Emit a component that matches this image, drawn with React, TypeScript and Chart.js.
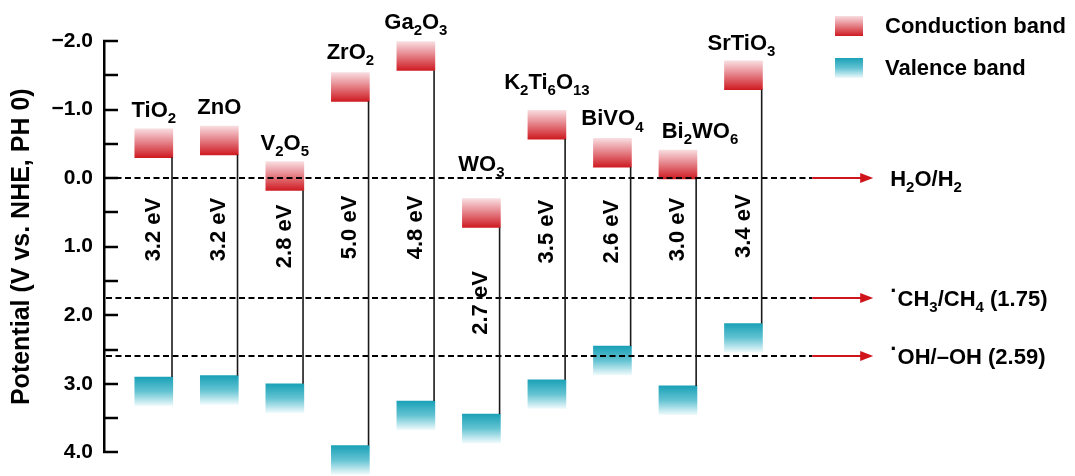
import React, { useEffect, useRef } from 'react';
import { Chart, registerables } from 'chart.js';

Chart.register(...registerables);

// ---------------- data ----------------
const materials = ['TiO_2', 'ZnO', 'V_2O_5', 'ZrO_2', 'Ga_2O_3', 'WO_3', 'K_2Ti_6O_{13}', 'BiVO_4', 'Bi_2WO_6', 'SrTiO_3'];
const conductionBand = [-0.3, -0.34, 0.18, -1.12, -1.57, 0.72, -0.57, -0.16, 0.01, -1.29];
const valenceBand = [2.9, 2.88, 3.0, 3.9, 3.25, 3.44, 2.94, 2.45, 3.03, 2.12];
const bandGaps = [3.2, 3.2, 2.8, 5.0, 4.8, 2.7, 3.5, 2.6, 3.0, 3.4];
const refPotentials = [0, 1.75, 2.59];
const refLabels = ['H_2O/H_2', '^·CH_3/CH_4 (1.75)', '^·OH/–OH (2.59)'];
const legendLabels = ['Conduction band', 'Valence band'];
const yAxisTitle = 'Potential (V vs. NHE, PH 0)';

// ---------------- layout / style ----------------
const FONT = '"Liberation Sans", Arial, sans-serif';
const BAND_THICKNESS = 0.42; // V, drawn height of each band block
const gapLabelCenter = [0.75, 0.75, 0.85, 0.72, 0.72, 1.82, 0.78, 0.78, 0.75, 0.7];
const nameLift = [12, 12, 12, 14, 13, 28, 21, 13, 12, 11];
const nameShift = [0, 0, 0, 0, 0, 0, 0, 0, 22, -2];
const REF_DASH_END = 10.05;
const REF_ARROW_TIP = 10.98;
const REF_LABEL_X = 11.24;
const CB_STOPS: [number, string][] = [[0, '#f8dde0'], [0.45, '#e6868d'], [1, '#cf1b22']];
const VB_STOPS: [number, string][] = [[0, '#1aa1b7'], [0.5, '#63c3d2'], [1, '#eefafc']];
const RED = '#d0141c';

type Seg = { t: string; kind: 'n' | 'sub' | 'sup' };
function parseRich(s: string): Seg[] {
  const segs: Seg[] = [];
  let i = 0;
  while (i < s.length) {
    const c = s[i];
    if (c === '_' || c === '^') {
      const kind = c === '_' ? 'sub' : 'sup';
      i++;
      let t = '';
      if (s[i] === '{') {
        const j = s.indexOf('}', i);
        t = s.slice(i + 1, j);
        i = j + 1;
      } else {
        t = s[i];
        i++;
      }
      segs.push({ t, kind });
    } else {
      let t = '';
      while (i < s.length && s[i] !== '_' && s[i] !== '^') {
        t += s[i];
        i++;
      }
      segs.push({ t, kind: 'n' });
    }
  }
  return segs;
}

function drawRich(ctx: CanvasRenderingContext2D, s: string, x: number, y: number, size: number, align: 'left' | 'center') {
  const segs = parseRich(s);
  const fontOf = (k: string) => `bold ${k === 'sub' ? Math.round(size * 0.68) : size}px ${FONT}`;
  const widths = segs.map((sg) => {
    ctx.font = fontOf(sg.kind);
    return ctx.measureText(sg.t).width;
  });
  const total = widths.reduce((a, b) => a + b, 0);
  let cx = align === 'center' ? x - total / 2 : x;
  ctx.textAlign = 'left';
  ctx.textBaseline = 'alphabetic';
  segs.forEach((sg, k) => {
    ctx.font = fontOf(sg.kind);
    let dy = 0;
    if (sg.kind === 'sub') dy = size * 0.28;
    if (sg.kind === 'sup') dy = -size * 0.36;
    ctx.fillText(sg.t, cx, y + dy);
    cx += widths[k];
  });
}

const makeGrad = (stops: [number, string][]) => (c: any) => {
  const chart = c.chart;
  const ys = chart.scales?.y;
  if (!ys || c.type !== 'data' || !chart.chartArea || !c.raw) return stops[stops.length - 1][1];
  const [a, b] = c.raw.y;
  const top = ys.getPixelForValue(Math.min(a, b));
  const bot = ys.getPixelForValue(Math.max(a, b));
  const g = chart.ctx.createLinearGradient(0, top, 0, bot);
  stops.forEach(([o, col]) => g.addColorStop(o, col));
  return g;
};

const decorPlugin = {
  id: 'bandDecor',
  afterDatasetsDraw(chart: any) {
    const { ctx, chartArea } = chart;
    const x = chart.scales.x;
    const y = chart.scales.y;
    ctx.save();
    // inward ticks (major + minor)
    ctx.strokeStyle = '#000';
    ctx.lineWidth = 2.5;
    ctx.lineCap = 'butt';
    for (let v = -2; v <= 4.001; v += 0.5) {
      const py = Math.round(y.getPixelForValue(v));
      ctx.beginPath();
      ctx.moveTo(chartArea.left - 1, py);
      ctx.lineTo(chartArea.left + 14, py);
      ctx.stroke();
    }
    // reference potentials
    refPotentials.forEach((p, k) => {
      const py = Math.round(y.getPixelForValue(p));
      const xEnd = x.getPixelForValue(REF_DASH_END);
      const xTip = x.getPixelForValue(REF_ARROW_TIP);
      ctx.setLineDash([6, 3.5]);
      ctx.strokeStyle = '#000';
      ctx.lineWidth = 2;
      ctx.beginPath();
      ctx.moveTo(chartArea.left + 2, py);
      ctx.lineTo(xEnd, py);
      ctx.stroke();
      ctx.setLineDash([]);
      ctx.strokeStyle = RED;
      ctx.beginPath();
      ctx.moveTo(xEnd, py);
      ctx.lineTo(xTip - 8, py);
      ctx.stroke();
      ctx.fillStyle = RED;
      ctx.beginPath();
      ctx.moveTo(xTip, py);
      ctx.lineTo(xTip - 13, py - 5);
      ctx.lineTo(xTip - 13, py + 5);
      ctx.closePath();
      ctx.fill();
      ctx.fillStyle = '#000';
      drawRich(ctx, refLabels[k], x.getPixelForValue(REF_LABEL_X), py + 8, 22, 'left');
    });
    // connectors, names, gap labels
    const meta = chart.getDatasetMeta(0);
    meta.data.forEach((el: any, i: number) => {
      const { x: bx, width } = el.getProps(['x', 'width'], true);
      const lx = bx + width / 2 - 0.8;
      ctx.strokeStyle = '#1a1a1a';
      ctx.lineWidth = 1.6;
      ctx.beginPath();
      ctx.moveTo(lx, y.getPixelForValue(conductionBand[i]));
      ctx.lineTo(lx, y.getPixelForValue(valenceBand[i]));
      ctx.stroke();
      ctx.fillStyle = '#000';
      drawRich(
        ctx,
        materials[i],
        bx + nameShift[i],
        y.getPixelForValue(conductionBand[i] - BAND_THICKNESS) - nameLift[i],
        22,
        'center'
      );
      ctx.save();
      ctx.translate(bx, y.getPixelForValue(gapLabelCenter[i]));
      ctx.rotate(-Math.PI / 2);
      ctx.font = `bold 22px ${FONT}`;
      ctx.textAlign = 'center';
      ctx.textBaseline = 'middle';
      ctx.fillText(`${bandGaps[i].toFixed(1)} eV`, 0, 0);
      ctx.restore();
    });
    ctx.restore();
  },
  afterDraw(chart: any) {
    const { ctx } = chart;
    ctx.save();
    const items = [
      { stops: CB_STOPS, top: 16 },
      { stops: VB_STOPS, top: 58 },
    ];
    items.forEach((it, k) => {
      const g = ctx.createLinearGradient(0, it.top, 0, it.top + 20);
      it.stops.forEach(([o, col]) => g.addColorStop(o, col));
      ctx.fillStyle = g;
      ctx.fillRect(835, it.top, 28, 20);
      ctx.fillStyle = '#000';
      ctx.font = `bold 22px ${FONT}`;
      ctx.textAlign = 'left';
      ctx.textBaseline = 'middle';
      ctx.fillText(legendLabels[k], 885, it.top + 11);
    });
    ctx.restore();
  },
};

export default function App() {
  const ref = useRef<HTMLCanvasElement>(null);
  useEffect(() => {
    if (!ref.current) return;
    const chart = new Chart(ref.current, {
      type: 'bar',
      data: {
        datasets: [
          {
            label: legendLabels[0],
            data: conductionBand.map((v, i) => ({ x: i, y: [v - BAND_THICKNESS, v] })) as any,
            backgroundColor: makeGrad(CB_STOPS) as any,
            barThickness: 38,
            grouped: false,
            clip: false as any,
            borderWidth: 0,
          },
          {
            label: legendLabels[1],
            data: valenceBand.map((v, i) => ({ x: i, y: [v, v + BAND_THICKNESS] })) as any,
            backgroundColor: makeGrad(VB_STOPS) as any,
            barThickness: 38,
            grouped: false,
            clip: false as any,
            borderWidth: 0,
          },
        ],
      },
      options: {
        animation: false,
        responsive: false,
        devicePixelRatio: 1,
        layout: { padding: { top: 41, bottom: 21, left: 0, right: 0 } },
        plugins: { legend: { display: false }, tooltip: { enabled: false } },
        scales: {
          x: { type: 'linear', display: false, offset: false, min: -0.76, max: 14.06 },
          y: {
            type: 'linear',
            reverse: true,
            min: -2,
            max: 4,
            afterFit: (s: any) => {
              s.width = 104;
            },
            border: { display: true, color: '#000', width: 2.5 },
            grid: { display: false, drawTicks: false },
            ticks: {
              stepSize: 1,
              padding: 11,
              color: '#000',
              font: { size: 21, weight: 'bold', family: FONT },
              callback: (v: any) => (Number(v) < 0 ? '−' : '') + Math.abs(Number(v)).toFixed(1),
            },
            title: {
              display: true,
              text: yAxisTitle,
              color: '#000',
              font: { size: 25, weight: 'bold', family: FONT },
              padding: { top: 7, bottom: 0 },
            },
          },
        },
      },
      plugins: [decorPlugin],
    });
    return () => chart.destroy();
  }, []);
  return (
    <div style={{ position: 'fixed', left: 0, top: 0, width: 1075, height: 476, background: '#fff' }}>
      <canvas ref={ref} width={1075} height={476} style={{ display: 'block' }} />
    </div>
  );
}
